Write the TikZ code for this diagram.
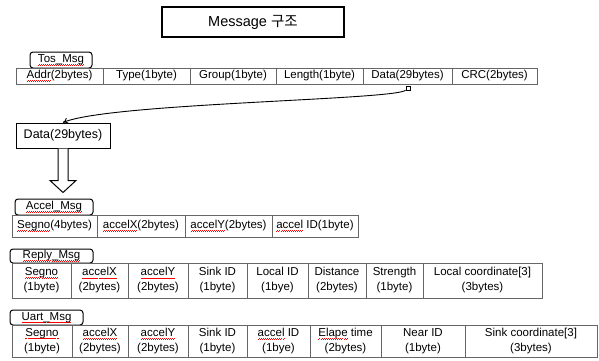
\documentclass[tikz,border=0pt]{standalone}
\usepackage{fontspec}
\setmainfont{Liberation Sans}
\newfontfamily\krfont{Noto Sans CJK KR}
\usetikzlibrary{arrows.meta}
\newsavebox\wavebox
\newcommand\rwave[1]{\sbox\wavebox{#1}\rlap{\color{red}\raisebox{-2.6pt}{\hbox to \wd\wavebox{\xleaders\hbox to 2pt{\rule{1pt}{0.45pt}\raisebox{0.6pt}{\rule{1pt}{0.45pt}}}\hfill}}}\usebox\wavebox}
\tikzset{
  cell/.style={draw=black!60, line width=0.7pt, inner sep=0pt, align=center,
    font=\fontsize{11.5}{15}\selectfont},
  tab/.style={draw=black, line width=1pt, rounded corners=3pt, inner sep=0pt,
    font=\fontsize{11.5}{13}\selectfont},
  titlebox/.style={draw=black, line width=1.2pt, inner sep=0pt,
    font=\fontsize{14.5}{16}\selectfont},
  databox/.style={draw=black, line width=1pt, inner sep=0pt,
    font=\fontsize{12.5}{14}\selectfont},
  hollow/.style={draw=black, line width=1pt, fill=white},
  link/.style={draw=black, line width=0.9pt, -{To[length=5pt,width=6pt]}},
  dot/.style={draw=black, fill=white, line width=0.8pt, minimum size=4pt, inner sep=0pt}
}
\begin{document}
\begin{tikzpicture}[x=1pt,y=-1pt]
\useasboundingbox (0,0) rectangle (599,360);
% title
\node[titlebox, minimum width=182pt, minimum height=30pt] (title) at (253,22) {Message {\krfont 구조}};
% Tos_Msg
\node[tab, minimum width=62pt, minimum height=16pt] (tostab) at (61,60) {\rwave{Tos\_Msg}};
\node[cell, minimum width=87pt, minimum height=16pt] (t1) at (59.5,76) {\rwave{Addr}(2bytes)};
\node[cell, minimum width=87pt, minimum height=16pt] (t2) at (146.5,76) {Type(1byte)};
\node[cell, minimum width=86pt, minimum height=16pt] (t3) at (233,76) {Group(1byte)};
\node[cell, minimum width=87pt, minimum height=16pt] (t4) at (319.5,76) {Length(1byte)};
\node[cell, minimum width=89pt, minimum height=16pt] (t5) at (407.5,76) {Data(29bytes)};
\node[cell, minimum width=85pt, minimum height=16pt] (t6) at (494.5,76) {CRC(2bytes)};
\node[dot] (sq) at (408,88) {};
% Data box
\node[databox, minimum width=94pt, minimum height=25pt] (data) at (63,135.5) {Data(29bytes)};
\draw[link] (sq) .. controls (395,100) and (110,103) .. (data.north);
% hollow arrow
\draw[hollow] (data.south) ++(-5,0) -- ++(0,32) -- ++(-8,0) -- ++(13,12) -- ++(13,-12) -- ++(-8,0) -- ++(0,-32);
% Accel_Msg
\node[tab, minimum width=78pt, minimum height=16pt] (acctab) at (54,207) {\rwave{Accel\_Msg}};
\node[cell, minimum width=85pt, minimum height=22pt] (a1) at (54.5,226) {\rwave{Segno}(4bytes)};
\node[cell, minimum width=88pt, minimum height=22pt] (a2) at (141,226) {\rwave{accelX}(2bytes)};
\node[cell, minimum width=87pt, minimum height=22pt] (a3) at (228.5,226) {\rwave{accelY}(2bytes)};
\node[cell, minimum width=86pt, minimum height=22pt] (a4) at (315,226) {\rwave{accel} ID(1byte)};
% Reply_Msg
\node[tab, minimum width=83pt, minimum height=14pt] (reptab) at (51.5,256) {\rwave{Reply\_Msg}};
\node[cell, minimum width=59pt, minimum height=35pt] (r1) at (41.5,280.5) {\rwave{Segno}\\(1byte)};
\node[cell, minimum width=57pt, minimum height=35pt] (r2) at (99.5,280.5) {\rwave{accelX}\\(2bytes)};
\node[cell, minimum width=60pt, minimum height=35pt] (r3) at (158,280.5) {\rwave{accelY}\\(2bytes)};
\node[cell, minimum width=59pt, minimum height=35pt] (r4) at (217.5,280.5) {Sink ID\\(1byte)};
\node[cell, minimum width=61pt, minimum height=35pt] (r5) at (277.5,280.5) {Local ID\\(1bye)};
\node[cell, minimum width=58pt, minimum height=35pt] (r6) at (337,280.5) {Distance\\(2bytes)};
\node[cell, minimum width=57pt, minimum height=35pt] (r7) at (394.5,280.5) {Strength\\(1byte)};
\node[cell, minimum width=119pt, minimum height=35pt] (r8) at (482.5,280.5) {Local coordinate[3]\\(3bytes)};
% Uart_Msg
\node[tab, minimum width=73pt, minimum height=15pt] (uarttab) at (46.5,317.5) {\rwave{Uart\_Msg}};
\node[cell, minimum width=60pt, minimum height=32pt] (u1) at (42,341) {\rwave{Segno}\\(1byte)};
\node[cell, minimum width=56pt, minimum height=32pt] (u2) at (100,341) {\rwave{accelX}\\(2bytes)};
\node[cell, minimum width=60pt, minimum height=32pt] (u3) at (158,341) {\rwave{accelY}\\(2bytes)};
\node[cell, minimum width=59pt, minimum height=32pt] (u4) at (217.5,341) {Sink ID\\(1byte)};
\node[cell, minimum width=63pt, minimum height=32pt] (u5) at (278.5,341) {\rwave{accel} ID\\(1bye)};
\node[cell, minimum width=71pt, minimum height=32pt] (u6) at (345.5,341) {\rwave{Elape} time\\(2bytes)};
\node[cell, minimum width=84pt, minimum height=32pt] (u7) at (423,341) {Near ID\\(1byte)};
\node[cell, minimum width=132pt, minimum height=32pt] (u8) at (531,341) {Sink coordinate[3]\\(3bytes)};
\end{tikzpicture}
\end{document}
